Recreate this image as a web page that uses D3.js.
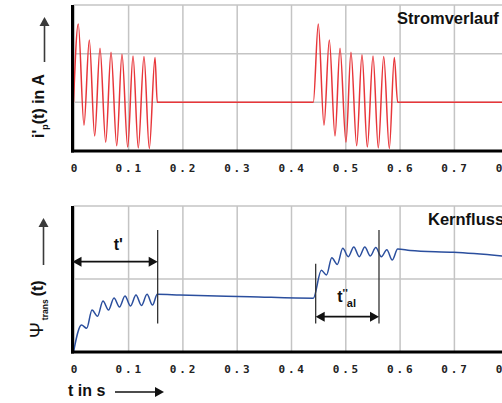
<!DOCTYPE html>
<html>
<head>
<meta charset="utf-8">
<script src="https://cdn.jsdelivr.net/npm/d3@7"></script>
<style>
  body { margin: 0; background: #fff; }
  svg { display: block; font-family: "Liberation Sans", Arial, sans-serif; }
</style>
</head>
<body>
<svg class="chart"></svg>
<script>
// time axis
var xTicks = [0, 0.1, 0.2, 0.3, 0.4, 0.5, 0.6, 0.7, 0.8];
var xTickLabels = ["0", "0.1", "0.2", "0.3", "0.4", "0.5", "0.6", "0.7", "0.8"];

// current i'_p(t): extrema of the two pulses
var currentT = [0, 0.0088, 0.0193, 0.0291, 0.039, 0.0488, 0.0593, 0.0691, 0.0796, 0.0893,
                0.0998, 0.1096, 0.1193, 0.1298, 0.1396, 0.1501, 0.1543,
                0.4416, 0.4508, 0.4613, 0.4711, 0.4816, 0.4908, 0.5018, 0.511, 0.5215,
                0.5313, 0.5411, 0.5516, 0.5613, 0.5713, 0.5816, 0.5908, 0.597, 0.8];
var currentI = [0, 1.61, -0.47, 1.28, -0.69, 1.11, -0.82, 1.03, -0.89, 0.99,
                -0.92, 0.95, -0.94, 0.94, -0.95, 0.92, 0,
                0, 1.61, -0.47, 1.28, -0.69, 1.11, -0.82, 1.03, -0.89,
                0.98, -0.92, 0.95, -0.94, 0.94, -0.95, 0.92, 0, 0];

// core flux psi_trans(t)
var fluxT = [0, 0.0147, 0.0243, 0.0341, 0.0442, 0.0543, 0.0645, 0.0746, 0.0847, 0.0948,
             0.105, 0.1151, 0.1252, 0.1354, 0.1455, 0.1543, 0.196, 0.325,
             0.4416, 0.4564, 0.4659, 0.4757, 0.4858, 0.4959, 0.5061, 0.5162, 0.5263,
             0.5365, 0.5466, 0.5567, 0.5669, 0.577, 0.5871, 0.597, 0.62, 0.70, 0.80];
var fluxPsi = [0, 0.37, 0.325, 0.575, 0.49, 0.70, 0.575, 0.74, 0.616, 0.767,
               0.63, 0.78, 0.637, 0.79, 0.644, 0.79, 0.78, 0.757,
               0.736, 1.12, 1.055, 1.29, 1.20, 1.42, 1.305, 1.44, 1.305,
               1.44, 1.315, 1.43, 1.305, 1.40, 1.26, 1.41, 1.39, 1.365, 1.31];

// annotations in the flux panel (time, psi)
var markerT = [0.155, 0.446, 0.5626];
var markerFrom = [0.39, 0.39, 0.39];
var markerTo = [1.67, 1.21, 1.67];
var spanStart = [0, 0.446];
var spanEnd = [0.155, 0.5626];
var spanPsi = [1.237, 0.484];

function show() {
    'use strict';

    var width = 502, height = 403;
    var svg = d3.select(".chart").attr("width", width).attr("height", height);

    var x = d3.scaleLinear().domain([0, 0.8]).range([73.5, 507.9]);
    var yI = d3.scaleLinear().domain([-1, 2]).range([151, 5]);
    var yPsi = d3.scaleLinear().domain([0, 2]).range([352, 206]);

    var gridColor = "#c4c4c4";

    function panel(y, yTicks) {
        var g = svg.append("g");
        var r = y.range();
        // vertical grid
        g.selectAll(".vg").data(xTicks).enter().append("line")
            .attr("x1", function(d) { return x(d) + 0.8; })
            .attr("x2", function(d) { return x(d) + 0.8; })
            .attr("y1", r[1]).attr("y2", r[0])
            .attr("stroke", gridColor).attr("stroke-width", 1.5);
        // horizontal grid
        g.selectAll(".hg").data(yTicks).enter().append("line")
            .attr("x1", x(0)).attr("x2", width)
            .attr("y1", function(d) { return y(d); })
            .attr("y2", function(d) { return y(d); })
            .attr("stroke", gridColor).attr("stroke-width", 1.5);
        return g;
    }

    function axes(y) {
        var r = y.range();
        svg.append("line").attr("x1", 72.5).attr("x2", 72.5)
            .attr("y1", r[1]).attr("y2", r[0] + 1.5)
            .attr("stroke", "#000").attr("stroke-width", 3);
        svg.append("line").attr("x1", 71).attr("x2", width)
            .attr("y1", r[0]).attr("y2", r[0])
            .attr("stroke", "#000").attr("stroke-width", 3);

        var ax = d3.axisBottom(x).tickValues(xTicks)
            .tickFormat(function(d, i) { return xTickLabels[i]; })
            .tickSize(0).tickPadding(13);
        var ga = svg.append("g").attr("transform", "translate(0," + r[0] + ")").call(ax);
        ga.select(".domain").remove();
        ga.selectAll("text")
            .attr("font-family", "'DejaVu Sans Mono', monospace")
            .attr("font-weight", "bold")
            .attr("font-size", 11)
            .attr("letter-spacing", 2.8)
            .attr("dx", 1.4)
            .attr("fill", "#222");
    }

    panel(yI, [-1, 0, 1, 2]);
    panel(yPsi, [0, 1, 2]);

    // current line
    var currentData = currentT.map(function(t, i) { return { t: t, v: currentI[i] }; });
    var lineI = d3.line()
        .x(function(d) { return x(d.t); })
        .y(function(d) { return yI(d.v); })
        .curve(d3.curveMonotoneX);
    svg.append("path").datum(currentData)
        .attr("d", lineI)
        .attr("fill", "none")
        .attr("stroke", "#e8363a")
        .attr("stroke-width", 1.5);

    // flux line
    var fluxData = fluxT.map(function(t, i) { return { t: t, v: fluxPsi[i] }; });
    var linePsi = d3.line()
        .x(function(d) { return x(d.t); })
        .y(function(d) { return yPsi(d.v); })
        .curve(d3.curveMonotoneX);
    svg.append("path").datum(fluxData)
        .attr("d", linePsi)
        .attr("fill", "none")
        .attr("stroke", "#2b4f9e")
        .attr("stroke-width", 1.5);

    axes(yI);
    axes(yPsi);

    // titles
    svg.append("text").attr("x", 397).attr("y", 24)
        .attr("font-size", 16.5).attr("font-weight", "bold").attr("fill", "#111")
        .text("Stromverlauf");
    svg.append("text").attr("x", 428).attr("y", 225)
        .attr("font-size", 16.5).attr("font-weight", "bold").attr("fill", "#111")
        .text("Kernflussverlauf");

    // annotation marker lines
    svg.selectAll(".marker").data(markerT).enter().append("line")
        .attr("x1", function(d) { return x(d); })
        .attr("x2", function(d) { return x(d); })
        .attr("y1", function(d, i) { return yPsi(markerFrom[i]); })
        .attr("y2", function(d, i) { return yPsi(markerTo[i]); })
        .attr("stroke", "#333").attr("stroke-width", 1.3);

    // double arrows
    function head(px, py, dir) {
        return "M" + px + "," + py + "L" + (px + dir * 9) + "," + (py - 5) +
               "L" + (px + dir * 9) + "," + (py + 5) + "Z";
    }
    spanStart.forEach(function(t0, i) {
        var xa = x(t0), xb = x(spanEnd[i]), yy = yPsi(spanPsi[i]);
        if (i === 0) xa = 72.5;
        svg.append("line").attr("x1", xa + 4).attr("x2", xb - 4)
            .attr("y1", yy).attr("y2", yy)
            .attr("stroke", "#111").attr("stroke-width", 1.8);
        svg.append("path").attr("d", head(xa, yy, 1)).attr("fill", "#111");
        svg.append("path").attr("d", head(xb, yy, -1)).attr("fill", "#111");
    });

    svg.append("text").attr("x", x(0.0825)).attr("y", yPsi(1.40))
        .attr("text-anchor", "middle")
        .attr("font-size", 16).attr("font-weight", "bold").attr("fill", "#111")
        .text("t'");
    var tal = svg.append("text").attr("x", x(0.4858)).attr("y", yPsi(0.689))
        .attr("font-size", 16).attr("font-weight", "bold").attr("fill", "#111");
    tal.append("tspan").text("t");
    tal.append("tspan").attr("font-size", 11).attr("dy", -5).text("''");
    tal.append("tspan").attr("font-size", 11).attr("dy", 10).attr("dx", -1).text("al");

    // axis arrows
    function arrowUp(ax, y0, y1) {
        svg.append("line").attr("x1", ax).attr("x2", ax).attr("y1", y0).attr("y2", y1 + 8)
            .attr("stroke", "#3a3a3a").attr("stroke-width", 1.6);
        svg.append("path")
            .attr("d", "M" + ax + "," + y1 + "L" + (ax - 5) + "," + (y1 + 9) + "L" + (ax + 5) + "," + (y1 + 9) + "Z")
            .attr("fill", "#3a3a3a");
    }
    arrowUp(44.5, 62, 17);
    arrowUp(43.5, 265, 218);

    var yl1 = svg.append("text")
        .attr("transform", "translate(43.5,138) rotate(-90)")
        .attr("font-size", 16).attr("font-weight", "bold").attr("fill", "#111");
    yl1.append("tspan").text("i'");
    yl1.append("tspan").attr("font-size", 9).attr("dy", 4).text("p");
    yl1.append("tspan").attr("dy", -4).text("(t) in A");

    var yl2 = svg.append("text")
        .attr("transform", "translate(42.5,338) rotate(-90)")
        .attr("font-size", 19).attr("fill", "#111");
    yl2.append("tspan").text("\u03A8");
    yl2.append("tspan").attr("font-size", 8.5).attr("font-weight", "bold").attr("dy", 5).attr("dx", 2).text("trans");
    yl2.append("tspan").attr("font-size", 16).attr("font-weight", "bold").attr("dy", -5).attr("dx", 3).text("(t)");

    // time label
    svg.append("text").attr("x", 68).attr("y", 396)
        .attr("font-size", 16).attr("font-weight", "bold").attr("fill", "#111")
        .text("t in s");
    svg.append("line").attr("x1", 115).attr("x2", 156).attr("y1", 392).attr("y2", 392)
        .attr("stroke", "#111").attr("stroke-width", 1.6);
    svg.append("path").attr("d", "M164,392L155,387L155,397Z").attr("fill", "#111");
}
show();
</script>
</body>
</html>
